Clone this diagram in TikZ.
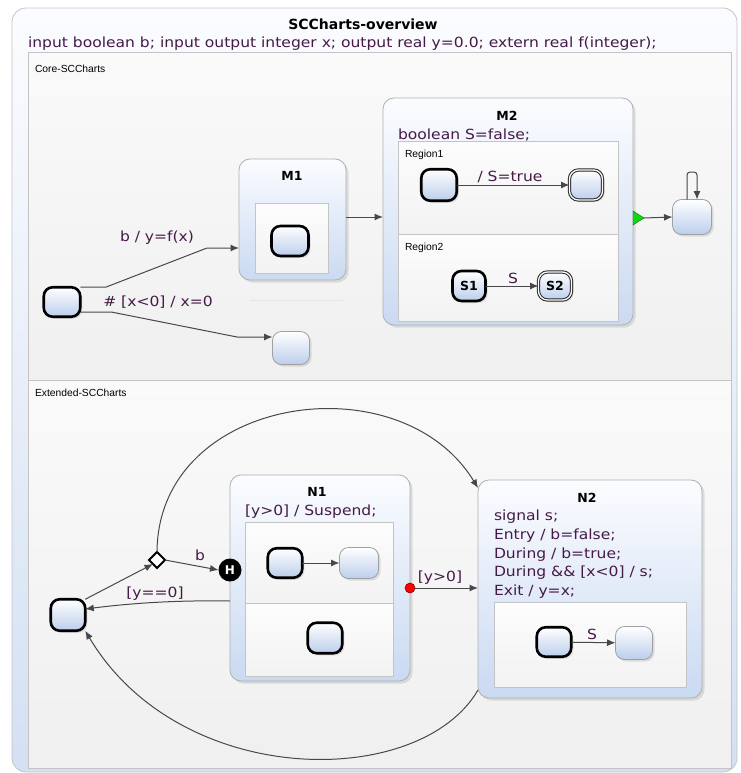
\documentclass[tikz,border=0pt]{standalone}
\usepackage{fontspec}
\setmainfont{DejaVu Sans}
\newfontfamily\labfont[FakeStretch=1.11]{DejaVu Sans}
\newfontfamily\smallfam{Liberation Sans}
\usetikzlibrary{arrows.meta,shapes.geometric,shadows}

\definecolor{txtcol}{RGB}{70,26,70}
\definecolor{stblue}{RGB}{188,206,236}
\definecolor{stgray}{RGB}{160,160,160}
\definecolor{machi}{RGB}{251,252,255}
\definecolor{maclo}{RGB}{202,218,242}
\definecolor{macborder}{RGB}{176,176,176}
\definecolor{framehi}{RGB}{251,252,255}
\definecolor{framelo}{RGB}{212,224,243}
\definecolor{framegray}{RGB}{196,196,196}
\definecolor{regborder}{RGB}{196,196,196}
\definecolor{arrcol}{RGB}{72,72,72}
\definecolor{termgreen}{RGB}{20,215,20}

\begin{document}
\begin{tikzpicture}[x=1pt,y=-1pt,
  every node/.style={inner sep=0pt, outer sep=0pt},
  outerframe/.style={rectangle, rounded corners=14pt, draw=framegray, line width=0.8pt, top color=framehi, bottom color=framelo},
  bigregion/.style={rectangle, draw=regborder, line width=0.7pt, top color=white!98!black, bottom color=white!94!black},
  subregion/.style={rectangle, draw=regborder, line width=0.7pt, top color=white!99!black, bottom color=white!95!black},
  macrost/.style={rectangle, rounded corners=11pt, draw=macborder, line width=0.8pt, top color=machi, bottom color=maclo, drop shadow={shadow xshift=2.5pt, shadow yshift=-2.5pt, opacity=0.22}},
  stbase/.style={rectangle, rounded corners=9pt, top color=white, bottom color=stblue, drop shadow={shadow xshift=2pt, shadow yshift=-2pt, opacity=0.22}},
  plainst/.style={stbase, draw=stgray, line width=0.8pt},
  initst/.style={stbase, draw=black, line width=2.6pt},
  finalst/.style={stbase, draw=black!85, line width=1pt, double=white, double distance=1.3pt},
  lab/.style={font=\labfont\fontsize{14}{16}\selectfont, text=txtcol},
  ttl/.style={font=\bfseries\fontsize{12.5}{15}\selectfont, text=black},
  regionlabel/.style={font=\smallfam\fontsize{10.3}{12}\selectfont, text=black, anchor=west},
  conn/.style={draw=arrcol, line width=1pt, -{Latex[length=8.5pt,width=7pt]}}
]
\useasboundingbox (0,0) rectangle (740,773);

% outer chart and its two regions
\node[outerframe, minimum width=725, minimum height=764] (chart) at (374.5,390) {};
\node[ttl, font=\bfseries\fontsize{14}{16}\selectfont] (charttitle) at (363,24) {SCCharts-overview};
\node[lab, anchor=west] (decl) at (28,44) {input boolean b; input output integer x; output real y=0.0; extern real f(integer);};

\node[bigregion, minimum width=703, minimum height=328] (core) at (379.5,216) {};
\node[regionlabel] (corelabel) at (35,69) {Core-SCCharts};
\node[bigregion, minimum width=703, minimum height=388] (ext) at (379.5,574) {};
\node[regionlabel] (extlabel) at (35,393) {Extended-SCCharts};

% ---------------- Core-SCCharts ----------------
\draw[gray!20, line width=0.8pt] (250,300) -- (343,300);

\node[macrost, minimum width=107, minimum height=121] (M1) at (292.5,219.5) {};
\node[ttl] (M1t) at (292,176) {M1};
\node[subregion, minimum width=73, minimum height=70] (M1r) at (291.5,238) {};
\node[initst, minimum width=37, minimum height=30] (M1s) at (290,241) {};

\node[macrost, minimum width=250, minimum height=227] (M2) at (508,211.5) {};
\node[ttl] (M2t) at (507,116) {M2};
\node[lab, anchor=west] (M2d) at (398,135) {boolean S=false;};
\node[subregion, minimum width=220, minimum height=93] (R1) at (508,187.5) {};
\node[regionlabel] (R1l) at (405,155) {Region1};
\node[subregion, minimum width=220, minimum height=87] (R2) at (508,277.5) {};
\node[regionlabel] (R2l) at (405,248) {Region2};

\node[initst, minimum width=35.5, minimum height=31.5] (R1a) at (439,185) {};
\node[finalst, minimum width=33, minimum height=30] (R1b) at (586,185) {};
\node[initst, minimum width=33, minimum height=30, ttl] (S1) at (469,286) {S1};
\node[finalst, minimum width=33, minimum height=28, ttl] (S2) at (555,286) {S2};

\node[initst, minimum width=36.5, minimum height=29.5] (A) at (62,302) {};
\node[plainst, minimum width=37, minimum height=33] (B) at (291,348) {};
\node[plainst, minimum width=39, minimum height=35] (C) at (692,217) {};

\fill[termgreen, draw=green!45!black, line width=0.4pt] (633,211) -- (644,218) -- (633,225) -- cycle;
\coordinate (termtip) at (644,218);

\draw[conn] ([yshift=15pt]A.east) -- ++(26,0) -- (207,248) -- (M1.west |- 0,248);
\node[lab] (lb1) at (157,238) {b / y=f(x)};
\draw[conn] ([yshift=-10pt]A.east) -- ++(31,0) -- (237,337) -- (B.west |- 0,337);
\node[lab] (lb2) at (158,302) {\# [x<0] / x=0};
\draw[conn] (M1.east |- 0,217) -- (M2.west |- 0,217);
\draw[conn] (R1a) -- (R1b);
\node[lab] (lb3) at (510,177) {/ S=true};
\draw[conn] (S1) -- (S2);
\node[lab] (lb4) at (513,278) {S};
\draw[conn] (termtip) -- (C.west);
\draw[conn, rounded corners=3pt] ([xshift=-5pt]C.north) -- (687,172) -- (697,172) -- ([xshift=5pt]C.north);

% ---------------- Extended-SCCharts ----------------
\node[macrost, minimum width=180, minimum height=206] (N1) at (320,578) {};
\node[ttl] (N1t) at (317,492) {N1};
\node[lab, anchor=west] (N1d) at (245,512) {[y>0] / Suspend;};
\node[subregion, minimum width=148, minimum height=81] (N1r1) at (319,562.5) {};
\node[subregion, minimum width=148, minimum height=73] (N1r2) at (319,639.5) {};
\node[initst, minimum width=34.5, minimum height=29.5] (N1a) at (285,563) {};
\node[plainst, minimum width=39, minimum height=31] (N1b) at (359,563) {};
\node[initst, minimum width=34.5, minimum height=30.5] (N1c) at (325,638) {};

\node[macrost, minimum width=224, minimum height=218] (N2) at (590,589) {};
\node[ttl] (N2t) at (587,498) {N2};
\node[lab, anchor=base west] (N2d1) at (494,520.7) {signal s;};
\node[lab, anchor=base west] (N2d2) at (494,539.3) {Entry / b=false;};
\node[lab, anchor=base west] (N2d3) at (494,558) {During / b=true;};
\node[lab, anchor=base west] (N2d4) at (494,576.7) {During \&\& [x<0] / s;};
\node[lab, anchor=base west] (N2d5) at (494,595.3) {Exit / y=x;};
\node[subregion, minimum width=192, minimum height=85] (N2r) at (590,644.5) {};
\node[initst, minimum width=34.5, minimum height=29.5] (N2a) at (554,642) {};
\node[plainst, minimum width=37, minimum height=33] (N2b) at (634,643) {};

\node[initst, minimum width=34.5, minimum height=31.5] (D) at (68,615) {};
\node[diamond, draw=black, line width=2pt, fill=white, minimum size=16] (ch) at (157,560) {};
\node[circle, fill=black, minimum size=23, text=white, font=\bfseries\fontsize{12}{12}\selectfont] (H) at (230,570) {H};
\node[circle, fill=red, draw=red!55!black, line width=0.6pt, minimum size=10] (sp) at (410,588) {};

\draw[conn] (D.north east) -- (ch.south west);
\draw[conn] (ch.east) -- (H.west);
\node[lab] (lb5) at (200,555) {b};
\draw[conn] (ch.north) .. controls (158,395) and (400,360) .. ([yshift=-8pt]N2.north west);
\draw[conn] (N1.west |- 0,601) .. controls (170,600) and (125,604) .. ([yshift=6pt]D.east);
\node[lab] (lb6) at (155,594) {[y==0]};
\draw[conn] (sp.east) -- (N2.west |- sp);
\node[lab] (lb7) at (440,578) {[y>0]};
\draw[conn] (N2.west |- 0,690) .. controls (420,790) and (180,790) .. (D.south east);
\draw[conn] (N1a) -- (N1b);
\draw[conn] (N2a) -- (N2b);
\node[lab] (lb8) at (592,634) {S};
\end{tikzpicture}
\end{document}
